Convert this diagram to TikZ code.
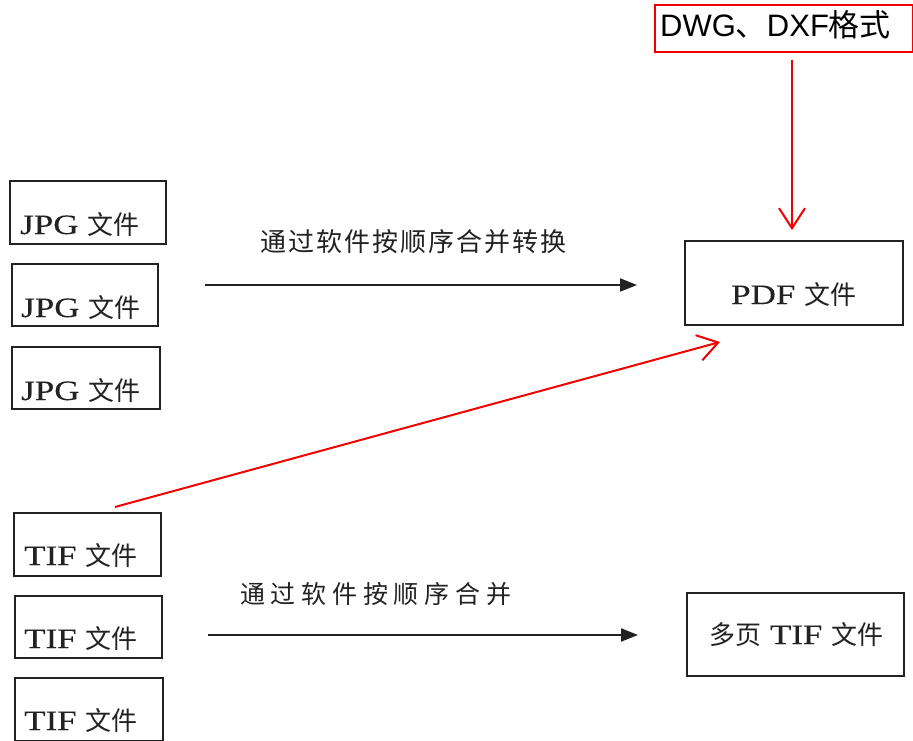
\documentclass[tikz,border=0pt]{standalone}
\usepackage{fontspec}
\newfontfamily\cjk{Noto Sans CJK SC}
\newfontfamily\cjkA[LetterSpace=8]{Noto Sans CJK SC}
\newfontfamily\cjkB[LetterSpace=23]{Noto Sans CJK SC}
\newfontfamily\arial{Liberation Sans}
\newfontfamily\lat[FakeStretch=1.25,FakeBold=0.25]{Liberation Serif}
\usetikzlibrary{arrows.meta}
\definecolor{redline}{HTML}{F20000}
\definecolor{ink}{HTML}{222222}
\tikzset{
  filebox/.style={draw=ink, line width=1.9pt, inner sep=0pt},
  redbox/.style={draw=redline, line width=2pt, inner sep=0pt},
  boxtext/.style={anchor=base west, inner sep=0pt, text=ink, font=\lat\fontsize{28}{30}\selectfont},
  lbl/.style={anchor=base west, inner sep=0pt, text=ink},
  blackarrow/.style={draw=ink, line width=1.9pt, -{Triangle[length=17pt,width=13pt]}},
  redarrow/.style={draw=redline, line width=2pt, -{Straight Barb[length=20pt,width=26pt]}}
}
\newcommand{\zh}[1]{{\cjk\fontsize{26}{30}\selectfont #1}}
\begin{document}
\begin{tikzpicture}[x=1pt,y=-1pt]
\useasboundingbox[fill=white] (0,0) rectangle (913,741);
% JPG boxes
\node[filebox, minimum width=156pt, minimum height=63pt] (j1) at (88,212.5) {};
\node[filebox, minimum width=146pt, minimum height=62pt] (j2) at (85,295) {};
\node[filebox, minimum width=148pt, minimum height=62pt] (j3) at (86,378) {};
\node[boxtext] (j1t) at (20,234) {JPG \zh{文件}};
\node[boxtext] (j2t) at (21,317) {JPG \zh{文件}};
\node[boxtext] (j3t) at (21,400) {JPG \zh{文件}};
% TIF boxes
\node[filebox, minimum width=147pt, minimum height=63pt] (t1) at (87.5,544.5) {};
\node[filebox, minimum width=147pt, minimum height=62pt] (t2) at (88.5,627) {};
\node[filebox, minimum width=148pt, minimum height=63pt] (t3) at (89,709.5) {};
\node[boxtext] (t1t) at (24,565) {TIF \zh{文件}};
\node[boxtext] (t2t) at (24,648) {TIF \zh{文件}};
\node[boxtext] (t3t) at (24,730) {TIF \zh{文件}};
% outputs
\node[filebox, minimum width=218pt, minimum height=84pt] (pdf) at (794,283) {};
\node[boxtext] (pdft) at (731,304) {PDF \zh{文件}};
\node[filebox, minimum width=217pt, minimum height=83pt] (mtif) at (795.5,634.5) {};
\node[boxtext] (mtift) at (709,644) {\zh{多页} TIF \zh{文件}};
% DWG box
\node[redbox, minimum width=258pt, minimum height=47pt] (dwg) at (784,28.5) {};
\node[anchor=base west, inner sep=0pt, font=\fontsize{31}{34}\selectfont] (dwgt) at (660,37) {\arial DWG\cjk 、\arial DXF\cjk 格式};
% labels
\node[lbl, font=\cjkA\fontsize{26}{30}\selectfont] (l1) at (260,251) {通过软件按顺序合并转换};
\node[lbl, font=\cjkB\fontsize{25}{28}\selectfont] (l2) at (240,603) {通过软件按顺序合并};
% connectors
\coordinate (a1s) at (205,285);
\coordinate (a1e) at (637,285);
\coordinate (a2s) at (208,635);
\coordinate (a2e) at (638,635);
\coordinate (r1s) at (792,60);
\coordinate (r1e) at (792,230);
\coordinate (r2s) at (115,507);
\coordinate (r2e) at (720,342);
\draw[blackarrow] (a1s) -- (a1e);
\draw[blackarrow] (a2s) -- (a2e);
\draw[redarrow] (r1s) -- (r1e);
\draw[redarrow] (r2s) -- (r2e);
\end{tikzpicture}
\end{document}
